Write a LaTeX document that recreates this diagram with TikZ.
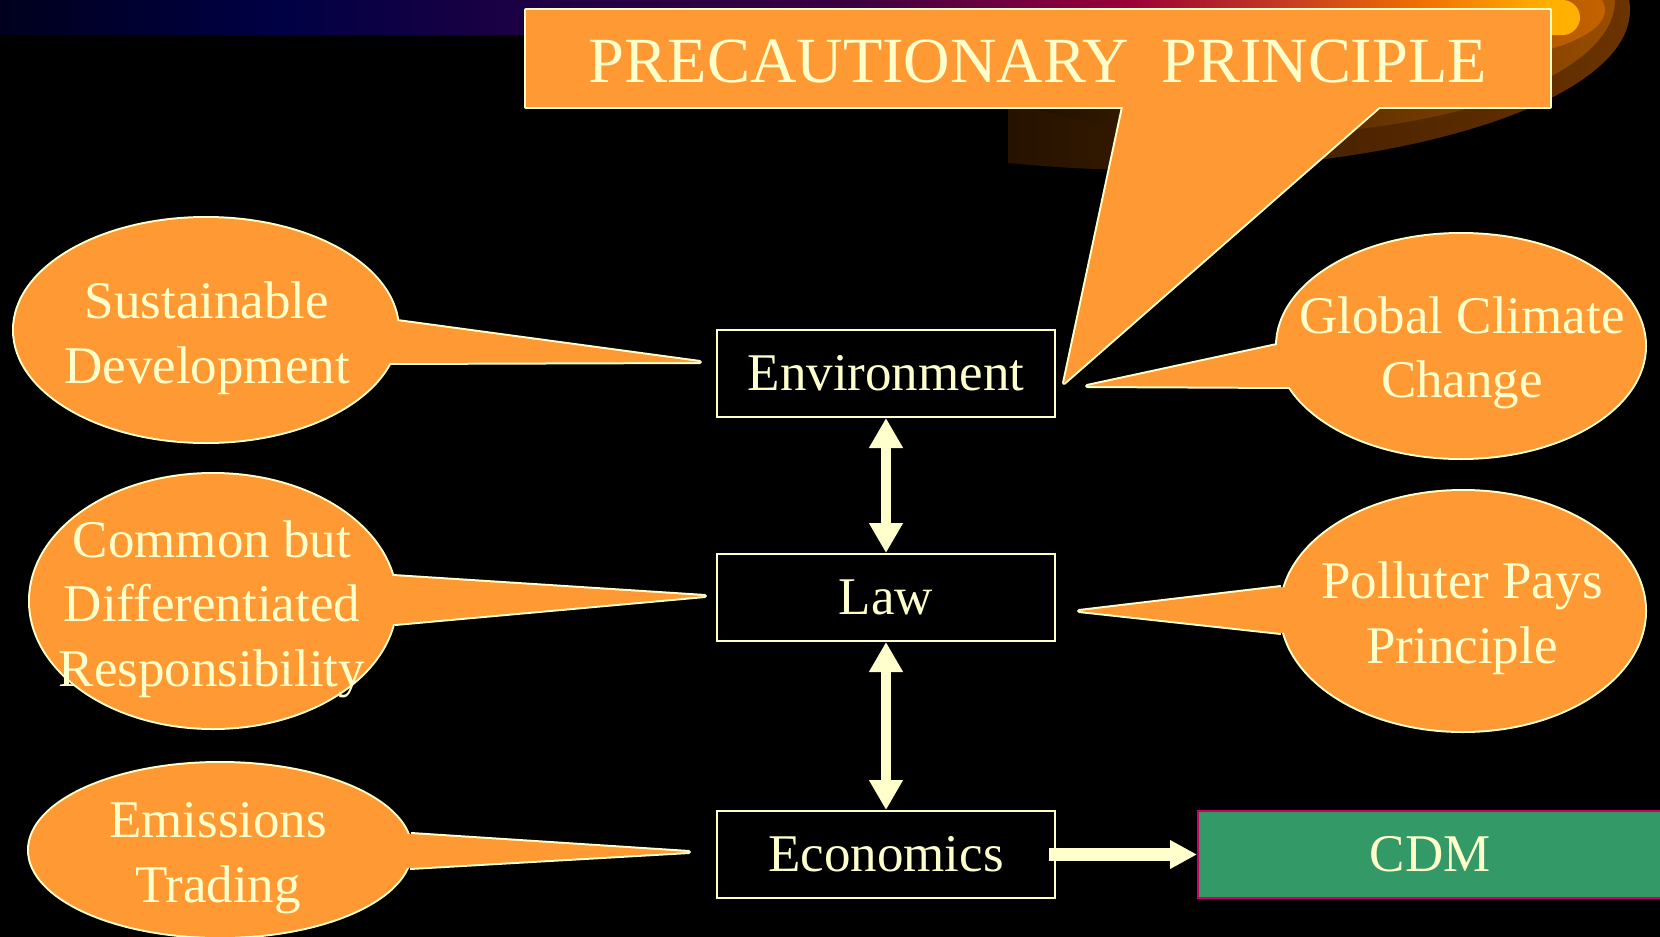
\documentclass[tikz,border=0pt]{standalone}
\usepackage{fontspec}
\setmainfont{Liberation Serif}
\usetikzlibrary{positioning,arrows.meta}

\definecolor{cream}{HTML}{FFFFCC}
\definecolor{blobfill}{HTML}{FF9933}
\definecolor{cdmgreen}{HTML}{339966}
\definecolor{cdmrim}{HTML}{CC0066}
\definecolor{swooshA}{HTML}{6B3300}
\definecolor{swooshB}{HTML}{994D00}
\definecolor{swooshC}{HTML}{C46200}
\definecolor{barA}{HTML}{000018}
\definecolor{barB}{HTML}{000044}
\definecolor{barC}{HTML}{1A0044}
\definecolor{barD}{HTML}{3A0040}
\definecolor{barE}{HTML}{6E0040}
\definecolor{barF}{HTML}{990038}
\definecolor{barG}{HTML}{C84020}
\definecolor{barH}{HTML}{F07000}
\definecolor{barI}{HTML}{FFB000}
\pgfdeclarehorizontalshading{barshade}{100bp}{color(0bp)=(barA); color(25bp)=(barA);
  color(34.7bp)=(barB); color(41.7bp)=(barC); color(52.5bp)=(barD); color(57.1bp)=(barE);
  color(61bp)=(barF); color(66.2bp)=(barG); color(70.1bp)=(barH); color(74bp)=(barI);
  color(100bp)=(barI)}

\begin{document}
\begin{tikzpicture}[
  x=0.5pt, y=-0.5pt,
  rim/.style={draw=cream, line width=2pt, line join=round},
  box/.style={draw=cream, line width=1pt, fill=black, text=cream, inner sep=0pt,
    minimum width=169pt, minimum height=43.5pt, font=\fontsize{26.5}{32}\selectfont},
  cdmbox/.style={box, draw=cdmrim, line width=1.2pt, fill=cdmgreen, minimum width=232pt},
  blobtext/.style={text=cream, align=center, inner sep=0pt, font=\fontsize{26.5}{32.25}\selectfont},
  titletext/.style={text=cream, inner sep=0pt, font=\fontsize{32.2}{38}\selectfont},
  twoway/.style={draw=cream, line width=5pt, >={Triangle[width=16pt,length=15pt]}, <->},
  oneway/.style={draw=cream, line width=6.5pt, >={Triangle[width=13.5pt,length=13.5pt]}, ->}
]
\useasboundingbox (0,0) rectangle (1660,937);
\fill[black] (0,0) rectangle (1660,937);

% template swoosh and top bar
\begin{scope}
\clip (1008,0) rectangle (1660,300);
\shade[left color=black, middle color=swooshA!40!black, right color=swooshA]
  (1150,10) ellipse [x radius=480, y radius=160];
\shade[left color=black, middle color=swooshB!60!black, right color=swooshB]
  (1250,0) ellipse [x radius=365, y radius=135];
\shade[left color=swooshC!60!black, right color=swooshC] (1420,10) ellipse [x radius=185, y radius=55];
\end{scope}
\shade[shading=barshade, rounded corners=8.75pt] (-40,0) rectangle (1580,35);

% title callout
\draw[rim] (526,10) rectangle (1550,107);
\draw[rim] (1123,107) -- (1064,383) -- (1379,107);
\fill[blobfill] (526,10) rectangle (1550,107);
\fill[blobfill] (1124.5,100) -- (1064,383) -- (1387,100) -- cycle;

% bubbles
\draw[rim] (206,330) ellipse [x radius=192, y radius=112];
\draw[rim] (397,321) -- (700,362) -- (389,363);
\fill[blobfill] (206,330) ellipse [x radius=192, y radius=112];
\fill[blobfill] (397,321) -- (700,362) -- (389,363) -- (206,330) -- cycle;

\draw[rim] (1461,346) ellipse [x radius=184, y radius=112];
\draw[rim] (1277,345) -- (1087,386) -- (1290,387);
\fill[blobfill] (1461,346) ellipse [x radius=184, y radius=112];
\fill[blobfill] (1277,345) -- (1087,386) -- (1290,387) -- (1461,346) -- cycle;

\draw[rim] (213,601) ellipse [x radius=183, y radius=127];
\draw[rim] (393,576) -- (705,596) -- (395,624);
\fill[blobfill] (213,601) ellipse [x radius=183, y radius=127];
\fill[blobfill] (393,576) -- (705,596) -- (395,624) -- (213,601) -- cycle;

\draw[rim] (1463,611) ellipse [x radius=182, y radius=120];
\draw[rim] (1281,587) -- (1079,611) -- (1281,633);
\fill[blobfill] (1463,611) ellipse [x radius=182, y radius=120];
\fill[blobfill] (1281,587) -- (1079,611) -- (1281,633) -- (1463,611) -- cycle;

\draw[rim] (220,850) ellipse [x radius=191, y radius=87];
\draw[rim] (411,834) -- (689,852) -- (410,868);
\fill[blobfill] (220,850) ellipse [x radius=191, y radius=87];
\fill[blobfill] (411,834) -- (689,852) -- (410,868) -- (220,850) -- cycle;

\node[titletext] (pp) at (1038,61) {PRECAUTIONARY\ \ PRINCIPLE};
\node[blobtext] (sd) at (207,338) {Sustainable\\Development};
\node[blobtext] (gcc) at (1462,353) {Global Climate\\Change};
\node[blobtext] (cbdr) at (212,609) {Common but\\Differentiated\\Responsibility};
\node[blobtext] (ppp) at (1462,618) {Polluter Pays\\Principle};
\node[blobtext] (et) at (218,858) {Emissions\\Trading};

% centre column
\node[box] (env) at (886,373.5) {Environment};
\node[box, below=67.5pt of env] (law) {Law};
\node[box, below=84pt of law] (econ) {Economics};
\node[cdmbox, right=70.5pt of econ] (cdm) {CDM};

\draw[twoway] (env) -- (law);
\draw[twoway] (law) -- (econ);
\draw[oneway] ([xshift=-3.5pt]econ.east) -- (cdm);
\end{tikzpicture}
\end{document}
